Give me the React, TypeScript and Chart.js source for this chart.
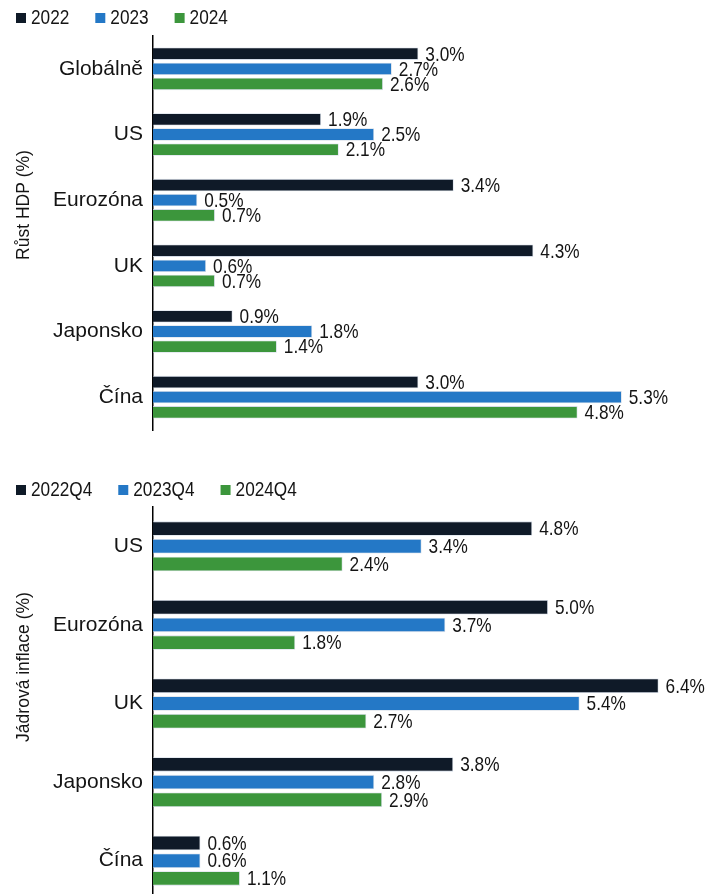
import React, { useEffect, useRef } from 'react';
import { Chart, registerables } from 'chart.js';

Chart.register(...registerables);

// ---------- data ----------
const gdpCategories = ['Globálně', 'US', 'Eurozóna', 'UK', 'Japonsko', 'Čína'];
const gdpSeriesLabels = ['2022', '2023', '2024'];
const gdp2022 = [3.0, 1.9, 3.4, 4.3, 0.9, 3.0];
const gdp2023 = [2.7, 2.5, 0.5, 0.6, 1.8, 5.3];
const gdp2024 = [2.6, 2.1, 0.7, 0.7, 1.4, 4.8];
const gdpAxisTitle = 'Růst HDP (%)';

const inflCategories = ['US', 'Eurozóna', 'UK', 'Japonsko', 'Čína'];
const inflSeriesLabels = ['2022Q4', '2023Q4', '2024Q4'];
const infl2022 = [4.8, 5.0, 6.4, 3.8, 0.6];
const infl2023 = [3.4, 3.7, 5.4, 2.8, 0.6];
const infl2024 = [2.4, 1.8, 2.7, 2.9, 1.1];
const inflAxisTitle = 'Jádrová inflace (%)';

const seriesColors = ['#0f1a28', '#2478c6', '#3c963c'];

// ---------- styles ----------
const REGULAR = '"Liberation Sans", Arial, sans-serif';
const TEXT = '#141414';
const NARROW_SCALE = 0.82;

function narrowText(ctx: any, text: string, x: number, y: number) {
  ctx.save();
  ctx.translate(x, y);
  ctx.scale(NARROW_SCALE, 1);
  ctx.fillText(text, 0, 0);
  ctx.restore();
}

const legendPlugin = {
  id: 'customLegend',
  afterDraw(chart: any, _args: any, opts: any) {
    const ctx = chart.ctx;
    ctx.save();
    ctx.font = `21px ${REGULAR}`;
    ctx.textBaseline = 'middle';
    ctx.textAlign = 'left';
    let x = opts.x;
    chart.data.datasets.forEach((ds: any) => {
      ctx.fillStyle = ds.backgroundColor;
      ctx.fillRect(x, opts.y - 5, 10, 10);
      x += 15;
      ctx.fillStyle = TEXT;
      narrowText(ctx, ds.label, x, opts.y);
      x += ctx.measureText(ds.label).width * NARROW_SCALE + 26;
    });
    ctx.restore();
  },
};

const axisTitlePlugin = {
  id: 'sideTitle',
  afterDraw(chart: any, _args: any, opts: any) {
    const ctx = chart.ctx;
    ctx.save();
    ctx.translate(opts.x, opts.y);
    ctx.rotate(-Math.PI / 2);
    ctx.font = `17.5px ${REGULAR}`;
    ctx.fillStyle = TEXT;
    ctx.textAlign = 'center';
    ctx.textBaseline = 'middle';
    ctx.fillText(opts.text, 0, 0);
    ctx.restore();
  },
};

const valueLabelPlugin = {
  id: 'valueLabels',
  afterDatasetsDraw(chart: any) {
    const ctx = chart.ctx;
    ctx.save();
    ctx.font = `21px ${REGULAR}`;
    ctx.fillStyle = TEXT;
    ctx.textAlign = 'left';
    ctx.textBaseline = 'middle';
    chart.data.datasets.forEach((ds: any, i: number) => {
      const meta = chart.getDatasetMeta(i);
      meta.data.forEach((bar: any, j: number) => {
        const v = ds.data[j];
        narrowText(ctx, `${v.toFixed(1)}%`, bar.x + 7, bar.y + 1);
      });
    });
    ctx.restore();
  },
};

type Props = {
  categories: string[];
  seriesLabels: string[];
  series: number[][];
  axisTitle: string;
  max: number;
  height: number;
  padTop: number;
  padBottom: number;
  categoryPercentage: number;
  legendY: number;
  titleY: number;
  top: number;
};

function BarChart(p: Props) {
  const ref = useRef<HTMLCanvasElement>(null);
  useEffect(() => {
    if (!ref.current) return;
    const chart = new Chart(ref.current, {
      type: 'bar',
      data: {
        labels: p.categories,
        datasets: p.series.map((d, i) => ({
          label: p.seriesLabels[i],
          data: d,
          backgroundColor: seriesColors[i],
          borderColor: 'rgba(200,210,225,0.8)',
          borderWidth: 0.8,
          categoryPercentage: p.categoryPercentage,
          barPercentage: 0.82,
        })),
      },
      options: {
        indexAxis: 'y',
        animation: false,
        responsive: false,
        maintainAspectRatio: false,
        layout: { padding: { top: p.padTop, bottom: p.padBottom, left: 0, right: 16 } },
        scales: {
          x: { display: false, min: 0, max: p.max },
          y: {
            afterFit: (scale: any) => {
              scale.width = 153;
              scale.paddingTop = 0;
              scale.paddingBottom = 0;
            },
            grid: { display: false, drawTicks: false },
            border: { display: true, color: '#000', width: 1.5 },
            ticks: {
              padding: 10,
              color: TEXT,
              font: { family: REGULAR, size: 21 },
            },
          },
        },
        plugins: {
          legend: { display: false },
          tooltip: { enabled: false },
          customLegend: { x: 16, y: p.legendY },
          sideTitle: { x: 24, y: p.titleY, text: p.axisTitle },
        } as any,
      },
      plugins: [legendPlugin, axisTitlePlugin, valueLabelPlugin],
    });
    return () => chart.destroy();
  }, []);
  return (
    <canvas
      ref={ref}
      width={722}
      height={p.height}
      style={{ position: 'absolute', left: 0, top: p.top, width: 722, height: p.height }}
    />
  );
}

export default function App() {
  return (
    <div
      style={{
        position: 'fixed',
        left: 0,
        top: 0,
        width: 722,
        height: 894,
        overflow: 'hidden',
        background: '#fff',
      }}
    >
      <BarChart
        categories={gdpCategories}
        seriesLabels={gdpSeriesLabels}
        series={[gdp2022, gdp2023, gdp2024]}
        axisTitle={gdpAxisTitle}
        max={6.252}
        height={445}
        top={0}
        padTop={36}
        padBottom={15}
        categoryPercentage={0.69}
        legendY={18}
        titleY={205}
      />
      <BarChart
        categories={inflCategories}
        seriesLabels={inflSeriesLabels}
        series={[infl2022, infl2023, infl2024]}
        axisTitle={inflAxisTitle}
        max={7.0}
        height={460}
        top={445}
        padTop={62}
        padBottom={5}
        categoryPercentage={0.675}
        legendY={45}
        titleY={222}
      />
    </div>
  );
}
